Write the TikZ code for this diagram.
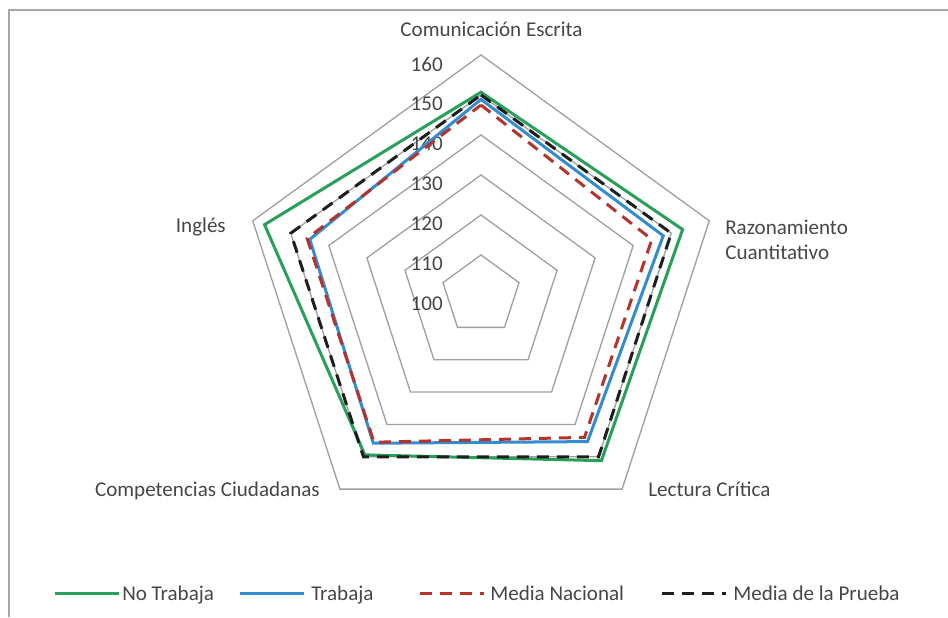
\documentclass[tikz,border=0pt]{standalone}
\usepackage{fontspec}
\setmainfont{Carlito}
\usetikzlibrary{positioning}

\definecolor{notrab}{RGB}{40,160,90}
\definecolor{trab}{RGB}{52,140,208}
\definecolor{medianac}{RGB}{180,52,44}
\definecolor{mediapru}{RGB}{30,30,30}
\definecolor{gridgray}{RGB}{160,160,160}
\definecolor{framegray}{RGB}{166,166,166}
\definecolor{labelgray}{RGB}{70,70,70}

\begin{document}
\begin{tikzpicture}[x = 0.75pt, y = 0.75pt, % one unit = one pixel
                gridline/.style = {draw = gridgray, line width = 1pt},
                serie/.style = {line width = 2.25pt},
                dashserie/.style = {serie, dash pattern = on 9pt off 6pt}
            ]

            \tikzstyle{every node}=[text = labelgray, inner sep = 0pt,
            font = \fontsize{15.8}{18.75}\selectfont]

            \useasboundingbox (0,0) rectangle (948,617);
            \draw[framegray, line width = 1.5pt] (8.5,0) -- (8.5,607) -- (948,607);

            \begin{scope}[shift = {(481,322)}]
                % pentagons 110 ... 160
                \foreach \r in {40,80,...,240}
                \draw[gridline] (90:\r) -- (18:\r) -- (-54:\r) -- (-126:\r)
                -- (162:\r) -- cycle;

                % scale values
                \foreach \v [count=\i from 0] in {100,110,...,160}
                \node[anchor = east] (val\v) at (-38, 40*\i - 9) {\v};

                % series
                \draw[serie, notrab] (90:202.8) -- (18:212) -- (-54:204.8)
                -- (-126:197.6) -- (162:227.6) -- cycle;
                \draw[serie, trab] (90:195.6) -- (18:191.6) -- (-54:181.2)
                -- (-126:183.2) -- (162:180) -- cycle;
                \draw[dashserie, medianac] (90:190) -- (18:179.6) -- (-54:176)
                -- (-126:182) -- (162:182.8) -- cycle;
                \draw[dashserie, mediapru] (90:200) -- (18:200) -- (-54:200)
                -- (-126:200) -- (162:200) -- cycle;
            \end{scope}

            % axis labels
            \node[anchor = base] (ce) at (491.5,580.3) {Comunicación Escrita};
            \node[anchor = base west, align = left] (rc) at (725,357)
            {Razonamiento\\Cuantitativo};
            \node[anchor = base west] (lc) at (648,120.3) {Lectura Crítica};
            \node[anchor = base east] (cc) at (320,120) {Competencias Ciudadanas};
            \node[anchor = base east] (in) at (226,384) {Inglés};

            % legend
            \node[anchor = base west] (leg1) at (122,17) {No Trabaja};
            \node[anchor = base west] (leg2) at (311,17) {Trabaja};
            \node[anchor = base west] (leg3) at (490,17) {Media Nacional};
            \node[anchor = base west] (leg4) at (733,17) {Media de la Prueba};
            \draw[serie, notrab] (55,24) -- (119,24);
            \draw[serie, trab] (240,24) -- (304,24);
            \draw[dashserie, medianac] (420,24) -- (484,24);
            \draw[dashserie, mediapru] (662,24) -- (726,24);
        \end{tikzpicture}
\end{document}
